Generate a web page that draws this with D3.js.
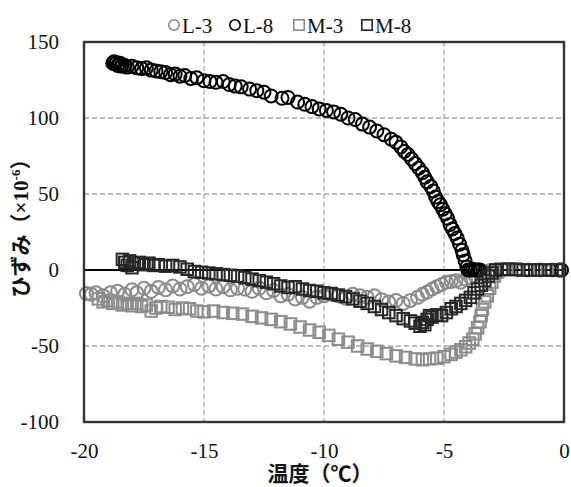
<!DOCTYPE html>
<meta charset="utf-8">
<html>
<body style="margin:0;background:#fff">
<div id="chart"></div>
<script src="https://d3js.org/d3.v7.min.js"></script>
<script>
// tick labels
var xTicks = [-20, -15, -10, -5, 0];
var yTicks = [-100, -50, 0, 50, 100, 150];

// series: [temperature, strain]
var L3 = [[-19.9,-15.5],[-19.7,-16],[-19.5,-15],[-19.2,-17],[-18.9,-15],[-18.6,-14],[-18.3,-16],[-18.0,-13],[-17.8,-15],[-17.5,-12],
  [-17.2,-14],[-16.9,-11.5],[-16.6,-13],[-16.3,-10.5],[-16.0,-12.5],[-15.7,-11],[-15.4,-9.5],[-15.1,-12],[-14.8,-10.5],[-14.5,-12.5],
  [-14.2,-11],[-13.9,-13],[-13.6,-12],[-13.3,-12.5],[-13.0,-14],[-12.7,-12],[-12.4,-15],[-12.1,-13.5],[-11.8,-17],[-11.5,-16],
  [-11.2,-19],[-10.9,-18],[-10.6,-20.5],[-10.3,-18],[-10.0,-17],[-9.7,-16],[-9.4,-17],[-9.1,-18.5],[-8.8,-16],[-8.5,-17],
  [-8.2,-18],[-7.9,-17],[-7.6,-19.5],[-7.3,-21],[-7.0,-20],[-6.7,-22],[-6.4,-20],[-6.1,-18],[-5.9,-16],[-5.7,-14.5],
  [-5.5,-12.5],[-5.3,-11],[-5.1,-9.5],[-4.9,-8],[-4.7,-7.5],[-4.5,-7],[-4.3,-8],[-4.1,-6],[-3.9,-5],[-3.7,-4],
  [-3.5,-2.5],[-3.3,-1.5],[-3.1,-0.5],[-2.9,0],[-2.5,0],[-2.0,0],[-1.5,0],[-1.0,0],[-0.5,0]];

var L8 = [[-18.8,136],[-18.75,137],[-18.7,135.5],[-18.65,136.5],[-18.6,134.5],[-18.55,135],[-18.5,136],[-18.45,134],[-18.4,135],[-18.3,134.5],
  [-18.2,133.5],[-18.0,134],[-17.8,133],[-17.6,132.5],[-17.4,133],[-17.2,131.5],[-17.0,131],[-16.8,130.5],[-16.6,130],[-16.4,128.5],
  [-16.2,129],[-16.0,127.5],[-15.8,128],[-15.55,126],[-15.3,126.5],[-15.0,124.5],[-14.75,124],[-14.5,123.5],[-14.2,124],[-13.95,122],
  [-13.7,121],[-13.45,120.5],[-13.1,119],[-12.8,118],[-12.5,117],[-12.2,114.5],[-11.75,113],[-11.5,113.5],[-11.1,110.5],[-10.8,109],
  [-10.5,107.5],[-10.2,106],[-9.9,105],[-9.6,104],[-9.3,102.5],[-9.0,100],[-8.7,99],[-8.4,96],[-8.1,94],[-7.8,91.5],
  [-7.5,89],[-7.2,86],[-7.0,84],[-6.8,81],[-6.65,78],[-6.5,76],[-6.35,73],[-6.2,70],[-6.05,67],[-5.9,64],
  [-5.8,61],[-5.7,58],[-5.55,55],[-5.45,52],[-5.35,48],[-5.25,45],[-5.15,43],[-5.05,40],[-4.95,37],[-4.85,34],
  [-4.75,30],[-4.65,27],[-4.55,24],[-4.45,21],[-4.35,17],[-4.25,13],[-4.2,10],[-4.12,6],[-4.05,2],[-4.0,0],
  [-3.9,0],[-3.8,0.5],[-3.7,0],[-3.6,0],[-3.5,0],[-0.2,0],[-0.1,0]];

var M3 = [[-19.4,-19],[-19.2,-21],[-19.0,-20],[-18.8,-22],[-18.6,-21],[-18.4,-23],[-18.2,-22],[-18.0,-23.5],[-17.8,-22],[-17.6,-24],
  [-17.4,-23],[-17.2,-27],[-17.0,-25],[-16.8,-24],[-16.5,-24.5],[-16.2,-26],[-15.9,-25],[-15.6,-25.5],[-15.3,-27],[-15.0,-27.5],
  [-14.6,-27],[-14.2,-28],[-13.8,-28.5],[-13.4,-29],[-13.0,-30.5],[-12.6,-31.5],[-12.2,-32.5],[-11.8,-34],[-11.4,-35.5],[-11.0,-37.5],
  [-10.6,-39.5],[-10.2,-41],[-9.8,-43],[-9.4,-45.5],[-9.0,-47.5],[-8.6,-50],[-8.2,-52],[-7.8,-53.5],[-7.4,-55],[-7.0,-56.5],
  [-6.6,-57.5],[-6.2,-58.5],[-5.9,-59],[-5.6,-58.5],[-5.3,-58],[-5.0,-57],[-4.7,-55.5],[-4.5,-54],[-4.3,-52.5],[-4.1,-50.5],
  [-3.95,-48],[-3.8,-45.5],[-3.7,-42],[-3.6,-38],[-3.5,-34],[-3.45,-30],[-3.4,-26],[-3.3,-21],[-3.2,-17],[-3.1,-12],
  [-3.0,-8],[-2.9,-4],[-2.8,-1.5],[-2.6,0],[-2.3,0],[-1.9,0],[-1.5,0],[-1.1,0],[-0.7,0],[-0.3,0]];

var M8 = [[-18.4,7],[-18.3,5],[-18.2,3],[-18.1,6],[-18.0,1.5],[-17.9,4.5],[-17.7,5],[-17.5,3.5],[-17.3,4.5],[-17.1,3],
  [-16.9,3.5],[-16.6,2.5],[-16.3,3],[-16.0,2],[-15.7,0.5],[-15.4,-1],[-15.1,-1.5],[-14.8,-2],[-14.5,-2.5],[-14.2,-3],
  [-13.9,-3.5],[-13.6,-4],[-13.3,-5],[-13.0,-6],[-12.7,-7],[-12.4,-8],[-12.1,-9],[-11.8,-10.5],[-11.5,-11.5],[-11.2,-11],
  [-10.9,-12.5],[-10.6,-13.5],[-10.3,-14],[-10.0,-15],[-9.7,-15.5],[-9.4,-16.5],[-9.1,-17.5],[-8.8,-19],[-8.5,-20.5],[-8.2,-22],
  [-7.9,-24],[-7.6,-26],[-7.3,-28],[-7.0,-30],[-6.7,-32],[-6.4,-33.5],[-6.2,-35],[-6.0,-37],[-5.9,-34.5],[-5.8,-36],
  [-5.7,-32.5],[-5.6,-30],[-5.5,-31],[-5.3,-29.5],[-5.1,-30],[-4.9,-28],[-4.7,-25.5],[-4.5,-24],[-4.3,-22],[-4.1,-20],
  [-3.9,-18],[-3.75,-15],[-3.6,-12.5],[-3.45,-10],[-3.3,-7],[-3.15,-4],[-3.0,-2],[-2.85,0],[-2.6,0.5],[-2.3,0.5],
  [-2.0,0.5],[-1.7,0],[-1.4,0],[-1.1,0],[-0.8,0],[-0.5,0],[-0.3,0]];

var seriesNames = ["L-3", "L-8", "M-3", "M-8"];
var seriesData = [L3, L8, M3, M8];
var seriesShape = ["circle", "circle", "square", "square"];
var seriesColor = ["#8a8a8a", "#000000", "#8c8c8c", "#262626"];

var W = 571, H = 487;
var pLeft = 84, pRight = 564, pTop = 42, pBottom = 422;
var font = "'Liberation Serif', 'Times New Roman', serif";

var svg = d3.select("#chart").append("svg")
  .attr("width", W).attr("height", H)
  .style("background", "#fff");

var x = d3.scaleLinear().domain([-20, 0]).range([pLeft, pRight]);
var y = d3.scaleLinear().domain([-100, 150]).range([pBottom, pTop]);

// gridlines
svg.append("g").selectAll("line")
  .data(xTicks.slice(1, -1)).enter().append("line")
  .attr("x1", d => x(d)).attr("x2", d => x(d))
  .attr("y1", pTop).attr("y2", pBottom)
  .attr("stroke", "#a6a6a6").attr("stroke-width", 1.3).attr("stroke-dasharray", "5,3");
svg.append("g").selectAll("line")
  .data(yTicks.filter(d => d != 0 && d != -100 && d != 150)).enter().append("line")
  .attr("x1", pLeft).attr("x2", pRight)
  .attr("y1", d => y(d)).attr("y2", d => y(d))
  .attr("stroke", "#a6a6a6").attr("stroke-width", 1.3).attr("stroke-dasharray", "5,3");

// zero line
svg.append("line")
  .attr("x1", pLeft).attr("x2", pRight)
  .attr("y1", y(0)).attr("y2", y(0))
  .attr("stroke", "#000").attr("stroke-width", 2);

// axes (labels only)
var gx = svg.append("g").attr("transform", "translate(0," + pBottom + ")")
  .call(d3.axisBottom(x).tickValues(xTicks).tickSize(0).tickPadding(21));
var gy = svg.append("g").attr("transform", "translate(" + pLeft + ",0)")
  .call(d3.axisLeft(y).tickValues(yTicks).tickSize(0).tickPadding(25));
[gx, gy].forEach(function (g) {
  g.select(".domain").remove();
  g.selectAll("text").style("font-family", font).style("font-size", "21px").attr("fill", "#111")
    .text(d => d < 0 ? "-" + Math.abs(d) : d);
});

// markers
var r = 6.5, sq = 11.5;
seriesData.forEach(function (data, i) {
  var g = svg.append("g")
    .attr("fill", "none")
    .attr("stroke", seriesColor[i])
    .attr("stroke-width", 2);
  if (seriesShape[i] == "circle") {
    g.selectAll("circle").data(data).enter().append("circle")
      .attr("cx", d => x(d[0])).attr("cy", d => y(d[1])).attr("r", r);
  } else {
    g.selectAll("rect").data(data).enter().append("rect")
      .attr("x", d => x(d[0]) - sq / 2).attr("y", d => y(d[1]) - sq / 2)
      .attr("width", sq).attr("height", sq);
  }
});

// plot border
svg.append("rect")
  .attr("x", pLeft).attr("y", pTop)
  .attr("width", pRight - pLeft).attr("height", pBottom - pTop)
  .attr("fill", "none").attr("stroke", "#333").attr("stroke-width", 2.4);

// legend
var legX = [174, 235, 299, 367];
seriesNames.forEach(function (name, i) {
  var lg = svg.append("g").attr("transform", "translate(" + legX[i] + ",25)");
  if (seriesShape[i] == "circle") {
    lg.append("circle").attr("r", 5.2)
      .attr("fill", "none").attr("stroke", seriesColor[i]).attr("stroke-width", 1.6);
  } else {
    lg.append("rect").attr("x", -5.2).attr("y", -5.2).attr("width", 10.4).attr("height", 10.4)
      .attr("fill", "none").attr("stroke", seriesColor[i]).attr("stroke-width", 1.6);
  }
  lg.append("text").attr("x", 8).attr("y", 7.5)
    .style("font-family", font).style("font-size", "21px").attr("fill", "#111")
    .text(name);
});

// axis titles
svg.append("text")
  .attr("x", (pLeft + pRight) / 2 - 4).attr("y", 481)
  .attr("text-anchor", "middle")
  .style("font-family", "'Liberation Serif', 'Noto Sans CJK JP', serif")
  .style("font-size", "21px").style("font-weight", "bold").attr("fill", "#111")
  .text("温度（℃）");

var yt = svg.append("text")
  .attr("transform", "translate(28,223) rotate(-90)")
  .attr("text-anchor", "middle")
  .style("font-family", "'Liberation Serif', 'Noto Sans CJK JP', serif")
  .style("font-size", "21px").style("font-weight", "bold").attr("fill", "#111");
yt.append("tspan").text("ひずみ（×10");
yt.append("tspan").attr("dy", -8).style("font-size", "13px").text("-6");
yt.append("tspan").attr("dy", 8).text("）");
</script>
</body>
</html>
